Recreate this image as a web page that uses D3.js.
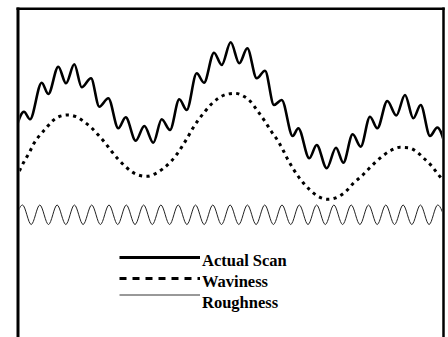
<!DOCTYPE html>
<html lang="en">
<head>
  <meta charset="UTF-8">
  <title>Surface Profile</title>
  <script src="https://d3js.org/d3.v7.min.js"></script>
  <style>
    body { margin: 0; background: #fff; }
    svg { display: block; }
    .legend text { font-family: 'Liberation Serif', 'Times New Roman', serif; font-size: 16.5px; font-weight: bold; }
  </style>
</head>
<body>
  <svg width="448" height="337"></svg>
  <script>
    // scan position (x) and profile height (y)
    const actualX = [-4, 6, 12, 23.7, 30.3, 40.3, 48, 56.3, 63.7, 73, 81.3, 90.3, 100.3, 107.7, 117.7, 126.3, 135.3, 143.7, 152, 161.3,
      168.7, 178.7, 186, 196, 203.7, 212.7, 221.3, 229.3, 238.7, 247, 256, 263.7, 274.7, 280.3, 291.3, 298.7, 308.7, 318, 325.3, 334.7,
      342.7, 352, 359.3, 369.3, 378.3, 387, 395.3, 402.7, 412, 419.3, 428];
    const actualY = [94, 118.3, 110.7, 147.3, 136, 163.3, 146.7, 165.7, 142.7, 151.7, 123.3, 131.7, 101.7, 112.7, 89.3, 104, 87.3, 110.7, 100, 130.7,
      120, 156.7, 147.3, 177.3, 165, 187.7, 166.7, 181.7, 151.7, 159.3, 125, 130, 94, 101.7, 71.7, 85, 61.7, 82.3, 67.3, 95.7,
      83.3, 113.3, 101.7, 129, 114.5, 135, 111.7, 125, 94, 102.5, 82];

    const wavX = [-6, 0, 6, 11.3, 16, 22, 28, 33.7, 41.3, 50, 58, 66, 73, 80.3, 87, 93.7, 100.3, 107, 113.7, 122, 129, 138, 145.3, 152.7,
      158.7, 163.7, 168.7, 174.7, 180.3, 187, 193, 200.3, 208.7, 217, 224.7, 232, 239.3, 247, 253.7, 260, 265, 270, 275.3, 280.3,
      285, 292, 300.3, 310.3, 320.3, 328.7, 335.3, 343.7, 351.3, 358, 365.3, 372.7, 382, 390.3, 398.7, 406, 413.7, 419, 424, 430];
    const wavY = [46, 56.5, 68.3, 77.3, 86.7, 95, 101.7, 108.3, 113.5, 115, 113.3, 108.3, 102.7, 95, 87.3, 78.5, 70.7, 63.8, 58.3, 54.5, 53.7, 56.7, 61.5, 68.3,
      75.5, 83, 91, 101.5, 110, 118.5, 125.5, 131.7, 135.7, 136.7, 134.3, 129, 119.5, 108.5, 98, 89, 80, 70, 61, 53.5,
      47.5, 40, 33.5, 30.7, 33.3, 39.3, 46.7, 54, 61.7, 68.3, 74.5, 79.5, 82.7, 82.3, 78.3, 71.5, 64, 57, 51, 44];

    const roughX = [-4.2, 4.5, 13.2, 21.8, 30.5, 39.1, 47.8, 56.4, 65.1, 73.7, 82.4, 91.0, 99.7, 108.3, 117.0, 125.6, 134.3, 142.9, 151.6, 160.2,
      168.9, 177.5, 186.2, 194.8, 203.5, 212.1, 220.8, 229.4, 238.1, 246.7, 255.4, 264.0, 272.7, 281.3, 290.0, 298.6, 307.3, 315.9, 324.6, 333.2,
      341.9, 350.5, 359.2, 367.8, 376.5, 385.1, 393.8, 402.4, 411.1, 419.7, 428.4];
    const roughY = [5.5, 25, 5.5, 25, 5.5, 25, 5.5, 25, 5.5, 25, 5.5, 25, 5.5, 25, 5.5, 25, 5.5, 25, 5.5, 25,
      5.5, 25, 5.5, 25, 5.5, 25, 5.5, 25, 5.5, 25, 5.5, 25, 5.5, 25, 5.5, 25, 5.5, 25, 5.5, 25,
      5.5, 25, 5.5, 25, 5.5, 25, 5.5, 25, 5.5, 25, 5.5];

    const legendNames = ["Actual Scan", "Waviness", "Roughness"];

    const svg = d3.select("svg");
    const x = d3.scaleLinear().domain([0, 425]).range([18, 443]);
    const y = d3.scaleLinear().domain([0, 222]).range([230, 8]);

    svg.append("clipPath").attr("id", "plot")
      .append("rect").attr("x", 19.5).attr("y", 10).attr("width", 422.5).attr("height", 330);

    const line = d3.line()
      .x(d => x(d[0]))
      .y(d => y(d[1]))
      .curve(d3.curveMonotoneX);

    const g = svg.append("g").attr("clip-path", "url(#plot)");

    g.append("path")
      .datum(d3.zip(actualX, actualY))
      .attr("d", line)
      .attr("fill", "none")
      .attr("stroke", "#000")
      .attr("stroke-width", 2.6)
      .attr("stroke-linejoin", "round");

    g.append("path")
      .datum(d3.zip(wavX, wavY))
      .attr("d", line)
      .attr("fill", "none")
      .attr("stroke", "#000")
      .attr("stroke-width", 3)
      .attr("stroke-dasharray", "3.2,4.3");

    g.append("path")
      .datum(d3.zip(roughX, roughY))
      .attr("d", line)
      .attr("fill", "none")
      .attr("stroke", "#222")
      .attr("stroke-width", 1);

    // frame (no bottom edge inside the picture)
    svg.append("line").attr("x1", 18).attr("x2", 18).attr("y1", 7.5).attr("y2", 337)
      .attr("stroke", "#000").attr("stroke-width", 3);
    svg.append("line").attr("x1", 16.5).attr("x2", 444.7).attr("y1", 8.7).attr("y2", 8.7)
      .attr("stroke", "#000").attr("stroke-width", 2.5);
    svg.append("line").attr("x1", 443.5).attr("x2", 443.5).attr("y1", 7.5).attr("y2", 337)
      .attr("stroke", "#000").attr("stroke-width", 2.5);

    // legend
    const leg = svg.append("g").attr("class", "legend");
    const legStyles = [
      { y: 257.5, w: 3, dash: null, color: "#000", ty: 265.5 },
      { y: 278.5, w: 3, dash: "7,6", color: "#000", ty: 287 },
      { y: 295, w: 1, dash: null, color: "#333", ty: 308 }
    ];
    legendNames.forEach((name, i) => {
      const s = legStyles[i];
      leg.append("line")
        .attr("x1", 119.5).attr("x2", 200)
        .attr("y1", s.y).attr("y2", s.y)
        .attr("stroke", s.color)
        .attr("stroke-width", s.w)
        .attr("stroke-dasharray", s.dash);
      leg.append("text")
        .attr("x", 202)
        .attr("y", s.ty)
        .text(name);
    });
  </script>
</body>
</html>
